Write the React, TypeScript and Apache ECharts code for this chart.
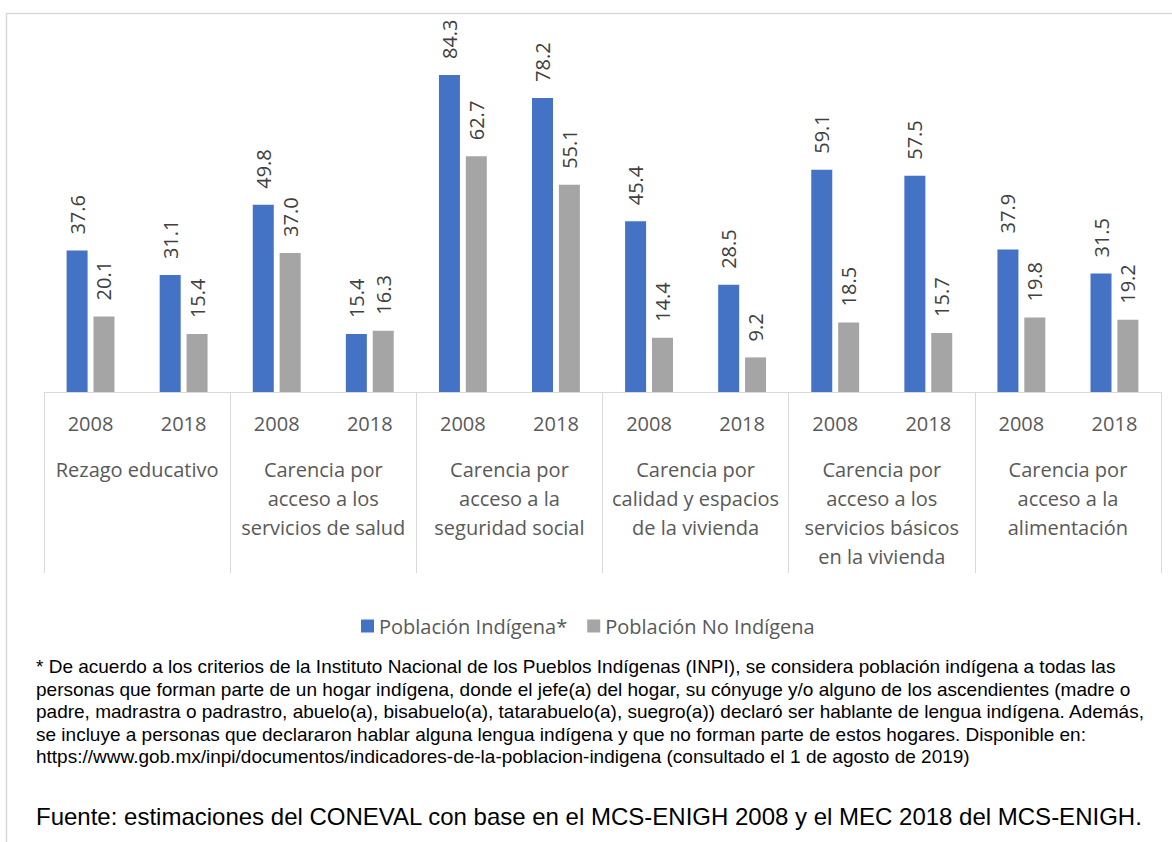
import React, { useEffect, useRef } from "react";
import * as echarts from "echarts";

const years = ["2008", "2018", "2008", "2018", "2008", "2018", "2008", "2018", "2008", "2018", "2008", "2018"];
const groups = [
  "Rezago educativo",
  "Carencia por\nacceso a los\nservicios de salud",
  "Carencia por\nacceso a la\nseguridad social",
  "Carencia por\ncalidad y espacios\nde la vivienda",
  "Carencia por\nacceso a los\nservicios básicos\nen la vivienda",
  "Carencia por\nacceso a la\nalimentación",
];
const indigena = [37.6, 31.1, 49.8, 15.4, 84.3, 78.2, 45.4, 28.5, 59.1, 57.5, 37.9, 31.5];
const noIndigena = [20.1, 15.4, 37.0, 16.3, 62.7, 55.1, 14.4, 9.2, 18.5, 15.7, 19.8, 19.2];
const seriesNames = ["Población Indígena*", "Población No Indígena"];
const footnoteLines = [
  "* De acuerdo a los criterios de la Instituto Nacional de los Pueblos Indígenas (INPI), se considera población indígena a todas las",
  "personas que forman parte de un hogar indígena, donde el jefe(a) del hogar, su cónyuge y/o alguno de los ascendientes (madre o",
  "padre, madrastra o padrastro, abuelo(a), bisabuelo(a), tatarabuelo(a), suegro(a)) declaró ser hablante de lengua indígena. Además,",
  "se incluye a personas que declararon hablar alguna lengua indígena y que no forman parte de estos hogares. Disponible en:",
  "https://www.gob.mx/inpi/documentos/indicadores-de-la-poblacion-indigena (consultado el 1 de agosto de 2019)",
];
const sourceText = "Fuente: estimaciones del CONEVAL con base en el MCS-ENIGH 2008 y el MEC 2018 del MCS-ENIGH.";

const FONT = "'Open Sans', sans-serif";
const ARIAL = "'Liberation Sans', Arial, sans-serif";

export default function App() {
  const ref = useRef<HTMLDivElement>(null);
  useEffect(() => {
    if (!ref.current) return;
    const chart = echarts.init(ref.current, null, { renderer: "svg" });
    const labelCfg = {
      show: true,
      position: "top",
      rotate: 90,
      align: "left",
      verticalAlign: "middle",
      distance: 16,
      fontSize: 20,
      fontFamily: FONT,
      color: "#404040",
      formatter: (p: any) => Number(p.value).toFixed(1),
    };
    const footGraphics: any[] = footnoteLines.map((t, i) => ({
      type: "text",
      left: 36,
      top: 657 + i * 22.6,
      style: { text: t, fontSize: 19, fontFamily: ARIAL, fill: "#000" },
    }));
    chart.setOption({
      animation: false,
      backgroundColor: "#fff",
      grid: { left: 44, right: 11, top: 16, bottom: 450 },
      legend: {
        left: 356,
        top: 611,
        itemWidth: 13,
        itemHeight: 13,
        itemGap: 20,
        icon: "rect",
        textStyle: { fontSize: 20, fontFamily: FONT, color: "#595959" },
        data: seriesNames,
      },
      xAxis: [
        {
          type: "category",
          data: years,
          position: "bottom",
          axisLine: { show: false },
          axisTick: { show: false },
          axisLabel: { interval: 0, margin: 21, fontSize: 20, lineHeight: 20, fontFamily: FONT, color: "#595959" },
        },
        {
          type: "category",
          data: groups,
          position: "bottom",
          offset: 0,
          axisLine: { show: true, lineStyle: { color: "#d9d9d9", width: 1 } },
          axisTick: { show: true, interval: 0, length: 181, lineStyle: { color: "#d9d9d9", width: 1 } },
          axisLabel: { interval: 0, margin: 63, fontSize: 20, lineHeight: 29, fontFamily: FONT, color: "#595959" },
        },
      ],
      yAxis: {
        type: "value",
        min: 0,
        max: 100,
        show: false,
        splitLine: { show: false },
      },
      series: [
        {
          name: seriesNames[0],
          type: "bar",
          xAxisIndex: 0,
          data: indigena,
          barWidth: 21,
          barGap: "28%",
          itemStyle: { color: "#4472C4" },
          label: labelCfg,
        },
        {
          name: seriesNames[1],
          type: "bar",
          xAxisIndex: 0,
          data: noIndigena,
          barWidth: 21,
          barGap: "28%",
          itemStyle: { color: "#A5A5A5" },
          label: labelCfg,
        },
      ],
      graphic: [
        {
          type: "rect",
          shape: { x: 6.5, y: 13.5, width: 1200, height: 900 },
          style: { fill: "none", stroke: "#d9d9d9", lineWidth: 1.5 },
          silent: true,
        },
        ...footGraphics,
        {
          type: "text",
          left: 36,
          top: 804,
          style: { text: sourceText, fontSize: 24, fontFamily: ARIAL, fill: "#000" },
        },
      ],
    });
    return () => chart.dispose();
  }, []);
  return <div ref={ref} style={{ position: "fixed", left: 0, top: 0, width: 1172, height: 842 }} />;
}
